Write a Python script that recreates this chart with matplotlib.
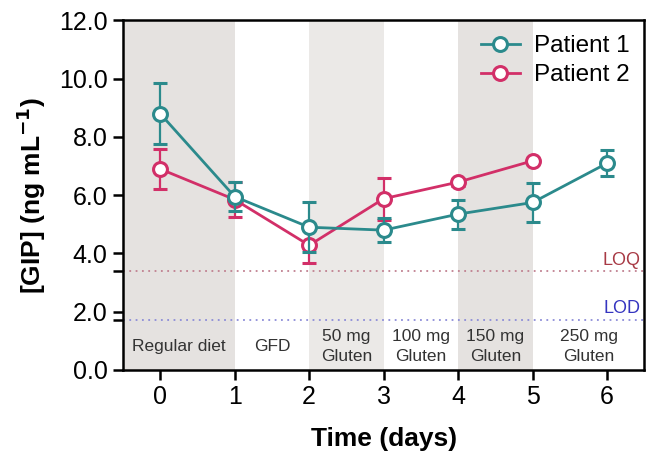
import matplotlib

matplotlib.use("Agg")
import matplotlib.pyplot as plt
from matplotlib.lines import Line2D
import numpy as np

plt.rcParams["font.family"] = ["Liberation Sans", "DejaVu Sans"]

days = [0, 1, 2, 3, 4, 5, 6]
p1_mean = [8.8, 5.95, 4.9, 4.8, 5.35, 5.75, 7.1]
p1_err = [1.05, 0.5, 0.85, 0.42, 0.5, 0.67, 0.45]
days2 = [0, 1, 2, 3, 4, 5]
p2_mean = [6.9, 5.85, 4.28, 5.88, 6.45, 7.18]
p2_err = [0.7, 0.6, 0.6, 0.72, 0.12, 0.0]

loq = 3.38
lod = 1.72

phases = ["Regular diet", "GFD", "50 mg\nGluten", "100 mg\nGluten",
          "150 mg\nGluten", "250 mg\nGluten"]
phase_bounds = [(-0.5, 1), (1, 2), (2, 3), (3, 4), (4, 5), (5, 6.5)]
phase_shade = ["#e5e2e0", None, "#ebe9e7", None, "#e5e2e0", None]

TEAL = "#2b8a8c"
CRIMSON = "#d22f68"

fig = plt.figure(figsize=(6.47, 4.55), dpi=100)
ax = fig.add_axes([0.190, 0.187, 0.806, 0.768])

for (lo, hi), shade, label in zip(phase_bounds, phase_shade, phases):
    if shade:
        ax.axvspan(lo, hi, color=shade, lw=0, zorder=0)
    ax.text((lo + hi) / 2, 0.8, label, ha="center", va="center",
            fontsize=12.5, color="#333333", linespacing=1.45)

ax.axhline(loq, color="#c08090", ls=(0, (1, 2.5)), lw=1.3, zorder=1)
ax.axhline(lod, color="#8c8cd8", ls=(0, (1, 2.5)), lw=1.3, zorder=1)
ax.text(6.45, loq + 0.08, "LOQ", color="#a83a45", fontsize=13,
        ha="right", va="bottom")
ax.text(6.45, lod + 0.08, "LOD", color="#3535c0", fontsize=13,
        ha="right", va="bottom")

ax.errorbar(days2, p2_mean, yerr=p2_err, color=CRIMSON, lw=2, marker="o",
            ms=10, mfc="white", mec=CRIMSON, mew=2.2, capsize=5,
            capthick=1.6, elinewidth=1.6, zorder=3)
ax.errorbar(days, p1_mean, yerr=p1_err, color=TEAL, lw=2, marker="o",
            ms=10, mfc="white", mec=TEAL, mew=2.2, capsize=5,
            capthick=1.6, elinewidth=1.6, zorder=4)

ax.set_xlim(-0.5, 6.5)
ax.set_ylim(0, 12)
ax.set_xticks(days)
ax.set_yticks(np.arange(0, 12.1, 2))
ax.set_yticklabels([f"{v:.1f}" for v in np.arange(0, 12.1, 2)])
ax.set_yticks([lod, loq], minor=True)
ax.tick_params(axis="both", which="major", labelsize=18, width=1.8,
               length=7, direction="out", pad=4)
ax.tick_params(axis="y", which="minor", width=1.8, length=7)
ax.tick_params(top=False, right=False)
for s in ax.spines.values():
    s.set_linewidth(1.8)

ax.set_xlabel("Time (days)", fontsize=19, fontweight="bold", labelpad=13)
ax.set_ylabel("[GIP] (ng mL$^{\\mathbf{-1}}$)", fontsize=19,
              fontweight="bold", labelpad=8)

handles = [
    Line2D([], [], color=TEAL, lw=2, marker="o", ms=10, mfc="white",
           mec=TEAL, mew=2.2),
    Line2D([], [], color=CRIMSON, lw=2, marker="o", ms=10, mfc="white",
           mec=CRIMSON, mew=2.2),
]
ax.legend(handles, ["Patient 1", "Patient 2"], loc="upper right",
          frameon=False, fontsize=17.5, handlelength=1.6,
          borderaxespad=0.2, labelspacing=0.3, handletextpad=0.6)

fig.savefig("out.png", dpi=100)
